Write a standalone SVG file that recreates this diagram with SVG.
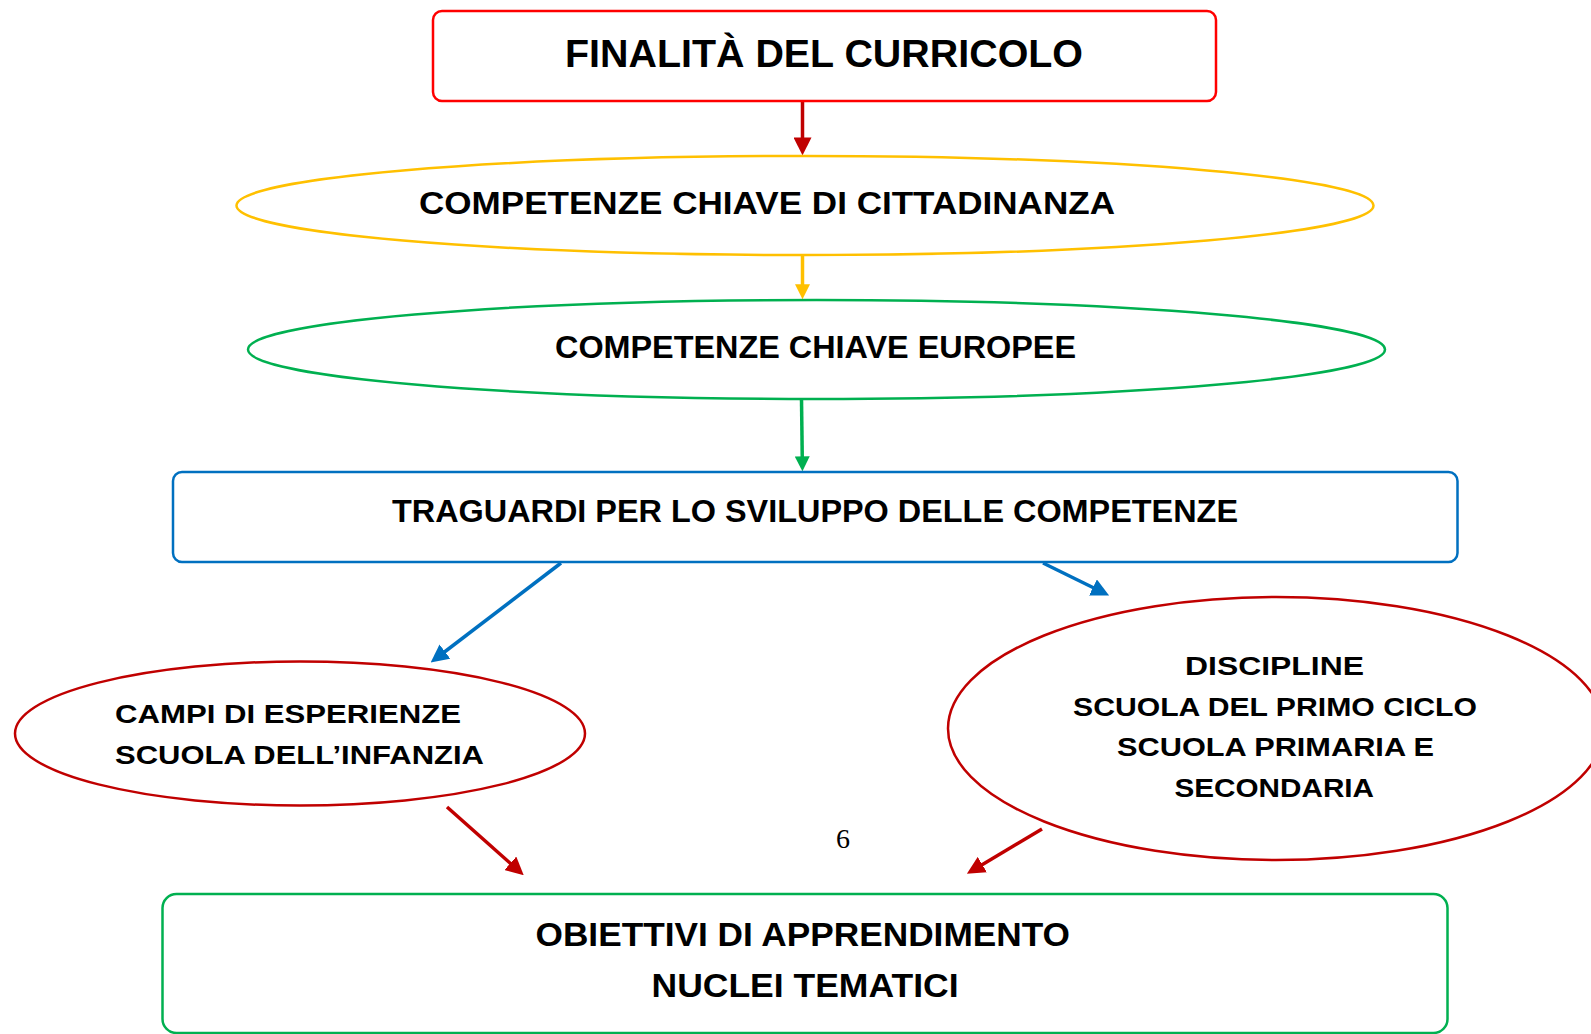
<svg xmlns="http://www.w3.org/2000/svg" width="1591" height="1034" viewBox="0 0 1591 1034">
<style>
.t{font-family:"Comic Sans MS","Liberation Sans",sans-serif;font-weight:bold;fill:#000}
.shape{fill:#fff;stroke-width:2.5}
.cn{fill:none;stroke-width:3.5}
</style>
<defs>
<marker id="aRed" markerUnits="userSpaceOnUse" markerWidth="18" markerHeight="18" viewBox="0 0 16 16" refX="5" refY="8" orient="auto"><path d="M0,0 L16,8 L0,16 z" fill="#C00000"/></marker>
<marker id="aYel" markerUnits="userSpaceOnUse" markerWidth="15" markerHeight="15" viewBox="0 0 16 16" refX="5" refY="8" orient="auto"><path d="M0,0 L16,8 L0,16 z" fill="#FFC000"/></marker>
<marker id="aGrn" markerUnits="userSpaceOnUse" markerWidth="15" markerHeight="15" viewBox="0 0 16 16" refX="5" refY="8" orient="auto"><path d="M0,0 L16,8 L0,16 z" fill="#00B050"/></marker>
<marker id="aBlu" markerUnits="userSpaceOnUse" markerWidth="18" markerHeight="18" viewBox="0 0 16 16" refX="5" refY="8" orient="auto"><path d="M0,0 L16,8 L0,16 z" fill="#0070C0"/></marker>
</defs>
<rect width="1591" height="1034" fill="#fff"/>

<g id="connectors">
<line class="cn" x1="802.5" y1="101" x2="802.5" y2="143" stroke="#C00000" stroke-width="4" marker-end="url(#aRed)"/>
<line class="cn" x1="802.5" y1="255" x2="802.5" y2="289" stroke="#FFC000" stroke-width="3" marker-end="url(#aYel)"/>
<line class="cn" x1="801.5" y1="399" x2="802.3" y2="461" stroke="#00B050" stroke-width="3" marker-end="url(#aGrn)"/>
<line class="cn" x1="561" y1="563" x2="440.5" y2="655" stroke="#0070C0" marker-end="url(#aBlu)"/>
<line class="cn" x1="1043" y1="563" x2="1098" y2="590" stroke="#0070C0" marker-end="url(#aBlu)"/>
<line class="cn" x1="447" y1="807" x2="514.5" y2="867" stroke="#C00000" marker-end="url(#aRed)"/>
<line class="cn" x1="1042" y1="829" x2="977.5" y2="867.5" stroke="#C00000" marker-end="url(#aRed)"/>
</g>

<g id="node-finalita">
<rect class="shape" x="433" y="11" width="783" height="90" rx="9" stroke="#FF0000"/>
<text class="t" x="565" y="67" font-size="39" textLength="518" lengthAdjust="spacingAndGlyphs">FINALITÀ DEL CURRICOLO</text>
</g>

<g id="node-cittadinanza">
<ellipse class="shape" cx="805" cy="205.5" rx="568.5" ry="49.5" stroke="#FFC000"/>
<text class="t" x="419" y="214" font-size="31" textLength="696" lengthAdjust="spacingAndGlyphs">COMPETENZE CHIAVE DI CITTADINANZA</text>
</g>

<g id="node-europee">
<ellipse class="shape" cx="816.5" cy="349.5" rx="568.5" ry="49.5" stroke="#00B050"/>
<text class="t" x="555" y="358" font-size="31" textLength="521" lengthAdjust="spacingAndGlyphs">COMPETENZE CHIAVE EUROPEE</text>
</g>

<g id="node-traguardi">
<rect class="shape" x="173" y="472" width="1284.5" height="90" rx="9" stroke="#0070C0"/>
<text class="t" x="392" y="521.5" font-size="32" textLength="846" lengthAdjust="spacingAndGlyphs">TRAGUARDI PER LO SVILUPPO DELLE COMPETENZE</text>
</g>

<g id="node-campi">
<ellipse class="shape" cx="300" cy="733.5" rx="285" ry="72" stroke="#C00000"/>
<text class="t" x="115" y="723" font-size="26" textLength="346" lengthAdjust="spacingAndGlyphs">CAMPI DI ESPERIENZE</text>
<text class="t" x="115" y="764" font-size="26" textLength="369" lengthAdjust="spacingAndGlyphs">SCUOLA DELL’INFANZIA</text>
</g>

<g id="node-discipline">
<ellipse class="shape" cx="1276" cy="728.5" rx="328" ry="131.5" stroke="#C00000"/>
<text class="t" x="1185" y="675" font-size="26" textLength="179" lengthAdjust="spacingAndGlyphs">DISCIPLINE</text>
<text class="t" x="1073" y="716" font-size="26" textLength="404" lengthAdjust="spacingAndGlyphs">SCUOLA DEL PRIMO CICLO</text>
<text class="t" x="1117" y="756" font-size="26" textLength="317" lengthAdjust="spacingAndGlyphs">SCUOLA PRIMARIA E</text>
<text class="t" x="1174.5" y="797" font-size="26" textLength="199.5" lengthAdjust="spacingAndGlyphs">SECONDARIA</text>
</g>

<text x="843" y="848" font-family="'Liberation Serif',serif" font-size="28" text-anchor="middle" fill="#000">6</text>

<g id="node-obiettivi">
<rect class="shape" x="162.5" y="894" width="1285" height="139" rx="14" stroke="#00B050"/>
<text class="t" x="535.5" y="946" font-size="33" textLength="534.5" lengthAdjust="spacingAndGlyphs">OBIETTIVI DI APPRENDIMENTO</text>
<text class="t" x="651.5" y="996.5" font-size="33" textLength="307" lengthAdjust="spacingAndGlyphs">NUCLEI TEMATICI</text>
</g>
</svg>
